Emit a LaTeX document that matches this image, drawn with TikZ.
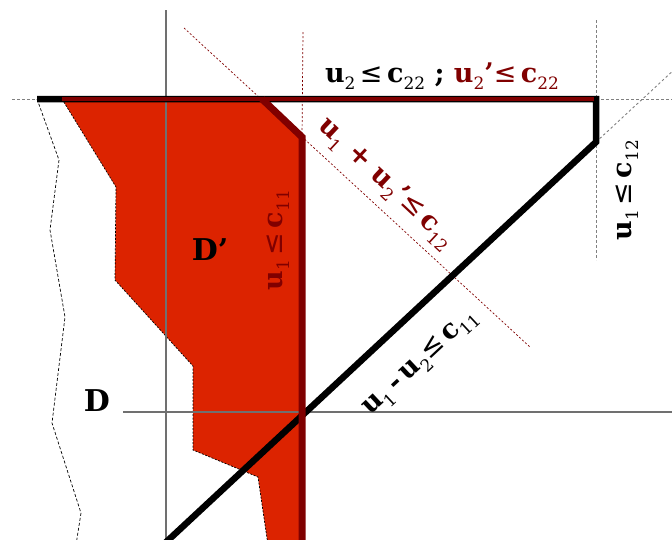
\documentclass[tikz,border=0pt]{standalone}
\usepackage{fontspec}
\setmainfont{DejaVu Serif}
\newfontfamily\symfont{DejaVu Sans}
\definecolor{dred}{HTML}{800000}
\definecolor{fillred}{HTML}{DC2300}
\definecolor{axisgrey}{HTML}{707070}
\newcommand\sbx[1]{\raisebox{-0.28em}{\fontsize{17}{17}\selectfont\mdseries #1}}
\newcommand\lqx{{\mdseries\symfont ≤}}
\newcommand\prm{\symbol{39}}
\tikzset{
  axisline/.style={axisgrey, line width=1.2pt},
  greydots/.style={gray, line width=0.9pt, dash pattern=on 2.5pt off 2.5pt},
  reddots/.style={dred, line width=0.7pt, dash pattern=on 2pt off 2pt},
  wavy/.style={black, line width=0.7pt, dash pattern=on 3pt off 2pt},
  blackbound/.style={black, line width=6.5pt, line join=miter},
  redbound/.style={dred, line width=7pt, line join=miter},
  lbl/.style={inner sep=0pt, font=\fontsize{27}{27}\selectfont\bfseries, anchor=base},
  bigl/.style={inner sep=0pt, font=\fontsize{30}{30}\selectfont\bfseries, anchor=base}
}
\begin{document}
\begin{tikzpicture}[x=1pt,y=-1pt]
\useasboundingbox (0,0) rectangle (672,539);
\clip (0,0) rectangle (672,539);
% points
\coordinate (tl) at (37,99);
\coordinate (tr) at (596,99);
\coordinate (rc) at (596,142);
\coordinate (bl) at (163,545);
\coordinate (rt) at (62,99);
\coordinate (rk) at (262,99);
\coordinate (rb) at (302,137);
\coordinate (rbot) at (302,545);
% filled region D'
\fill[fillred] (62,99) -- (116,187) -- (115,280) -- (193,366) -- (193,450) -- (258,477) -- (268,545) -- (302,545) -- (302,137) -- (262,99) -- cycle;
\draw[black, line width=0.7pt, dash pattern=on 2pt off 1.5pt] (62,99) -- (116,187) -- (115,280) -- (193,366) -- (193,450) -- (258,477) -- (268,545);
% axes
\coordinate (ay0) at (166,10);
\coordinate (ay1) at (166,545);
\coordinate (ax0) at (123,412);
\coordinate (ax1) at (680,412);
\draw[axisline] (ay0) -- (ay1);
\draw[axisline] (ax0) -- (ax1);
% dotted guides
\coordinate (gl) at (12,99);
\coordinate (gr) at (680,99);
\coordinate (gv0) at (596,20);
\coordinate (gv1) at (596,260);
\coordinate (gd) at (676,68);
\draw[greydots] (gl) -- (tl);
\draw[greydots] (tr) -- (gr);
\draw[greydots] (gv0) -- (gv1);
\draw[greydots] (rc) -- (gd);
\coordinate (rv0) at (303,32);
\coordinate (rd0) at (184,28);
\coordinate (rd1) at (530,347);
\draw[reddots] (rv0) -- (rb);
\draw[reddots] (rd0) -- (rd1);
% wavy dashed boundary
\draw[wavy] (tl) -- (59,160) -- (50,230) -- (65,317) -- (52,423) -- (81,513) -- (76,545);
% black boundary of D
\draw[blackbound] (tl) -- (tr) -- (rc) -- (bl);
% dark red boundary of D'
\draw[dred, line width=4pt] (rt) -- (594,99);
\draw[redbound] (rk) -- (rb) -- (rbot);
% labels
\node[lbl] (top) at (442,82) {u\sbx{2}\,\lqx\,c\sbx{22} ; \textcolor{dred}{u\sbx{2}\prm\lqx\,c\sbx{22}}};
\node[lbl, dred, rotate=-43] (sum) at (382,188) {u\sbx{1} + u\sbx{2}\prm\lqx\,c\sbx{12}};
\node[lbl, dred, rotate=90] (u11) at (282,240) {u\sbx{1}\,\lqx\,c\sbx{11}};
\node[lbl, rotate=90] (u12) at (631,190) {u\sbx{1}\,\lqx\,c\sbx{12}};
\node[lbl, rotate=43] (diff) at (424,366) {u\sbx{1}\,-\,u\sbx{2}\lqx\,c\sbx{11}};
\node[bigl] (dp) at (210,260) {D\prm};
\node[bigl] (d) at (97,411) {D};
\end{tikzpicture}
\end{document}
